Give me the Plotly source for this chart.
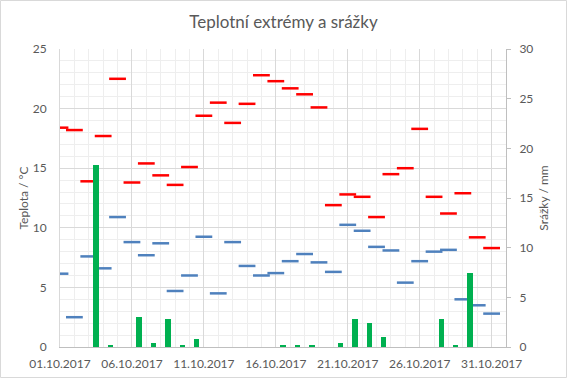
import plotly.graph_objects as go
import pandas as pd

dates = pd.date_range("2017-10-01", "2017-10-31", freq="D")

t_max = [18.4, 18.2, 13.9, 17.7, 22.5, 13.8, 15.4, 14.4, 13.6, 15.1,
         19.4, 20.5, 18.8, 20.4, 22.8, 22.3, 21.7, 21.2, 20.1, 11.9,
         12.8, 12.6, 10.9, 14.5, 15.0, 18.3, 12.6, 11.2, 12.9, 9.2, 8.3]

t_min = [6.15, 2.5, 7.6, 6.6, 10.9, 8.8, 7.7, 8.7, 4.7, 6.0,
         9.25, 4.5, 8.8, 6.8, 6.0, 6.2, 7.2, 7.8, 7.1, 6.3,
         10.25, 9.75, 8.4, 8.1, 5.4, 7.2, 8.0, 8.15, 4.0, 3.5, 2.8]

precip = [0, 0, 18.3, 0.2, 0, 3.0, 0.4, 2.8, 0.2, 0.8,
          0, 0, 0, 0, 0, 0.2, 0.2, 0.2, 0, 0.4,
          2.8, 2.4, 1.0, 0, 0, 0, 2.8, 0.2, 7.5, 0, 0]

title_text = "Teplotní extrémy a srážky"
y1_title = "Teplota / °C"
y2_title = "Srážky / mm"

FONT = "Lato"
GRAY = "#595959"
DAY_MS = 86400000

fig = go.Figure()

fig.add_trace(go.Bar(
    x=dates, y=precip, yaxis="y2",
    xperiod=DAY_MS, xperiodalignment="middle",
    width=0.38 * DAY_MS,
    marker=dict(color="#00B050", line=dict(width=0)),
    name="Srážky", hoverinfo="x+y",
))

fig.add_trace(go.Scatter(
    x=dates, y=t_max, mode="markers",
    marker=dict(symbol="line-ew", size=12, color="#FF0000",
                line=dict(color="#FF0000", width=2.5)),
    name="Max",
))

fig.add_trace(go.Scatter(
    x=dates, y=t_min, mode="markers",
    marker=dict(symbol="line-ew", size=12, color="#4F81BD",
                line=dict(color="#4F81BD", width=2.5)),
    name="Min",
))

ML, MR, MT, MB = 60, 61, 49, 31
W, H = 567, 378
pw, ph = W - ML - MR, H - MT - MB

fig.update_layout(
    width=W, height=H,
    margin=dict(l=ML, r=MR, t=MT, b=MB, pad=0, autoexpand=False),
    paper_bgcolor="white", plot_bgcolor="white",
    showlegend=False,
    font=dict(family=FONT, size=12, color=GRAY),
    title=dict(text=title_text, x=0.5, xanchor="center", y=1 - 22 / H,
               yanchor="middle", font=dict(family=FONT, size=17, color=GRAY)),
    bargap=0,
    xaxis=dict(
        type="date", automargin=False,
        range=["2017-10-01", "2017-11-01"],
        tick0="2017-10-01", dtick=5 * DAY_MS,
        tickformat="%d.%m.%Y",
        showgrid=True, gridcolor="#D9D9D9", gridwidth=1,
        minor=dict(dtick=DAY_MS, showgrid=True, gridcolor="#EEEEEE", gridwidth=1),
        showline=True, linecolor="#BFBFBF", linewidth=1,
        ticks="", zeroline=False, ticklabelstandoff=6,
        tickfont=dict(family=FONT, size=12, color=GRAY),
    ),
    yaxis=dict(
        range=[0, 25], dtick=5, automargin=False,
        showgrid=True, gridcolor="#D9D9D9", gridwidth=1,
        minor=dict(dtick=1, showgrid=True, gridcolor="#EEEEEE", gridwidth=1),
        showline=True, linecolor="#D9D9D9", linewidth=1,
        zeroline=False, ticks="", ticklabelstandoff=10,
        title=dict(text=y1_title, standoff=1, font=dict(family=FONT, size=12, color=GRAY)),
        tickfont=dict(family=FONT, size=12, color=GRAY),
    ),
    yaxis2=dict(
        range=[0, 30], dtick=5, overlaying="y", side="right", automargin=False,
        showgrid=False, zeroline=False,
        showline=True, linecolor="#BFBFBF", linewidth=1,
        ticks="outside", ticklen=4, tickcolor="#BFBFBF", ticklabelstandoff=6,
        title=dict(text=y2_title, standoff=7, font=dict(family=FONT, size=12, color=GRAY)),
        tickfont=dict(family=FONT, size=12, color=GRAY),
    ),
    shapes=[dict(
        type="rect", xref="paper", yref="paper",
        x0=(-ML + 0.5) / pw, x1=(W - ML - 0.5) / pw,
        y0=(-MB + 0.5) / ph, y1=(H - MB - 0.5) / ph,
        line=dict(color="#D9D9D9", width=1), fillcolor="rgba(0,0,0,0)",
        layer="below",
    )],
)

fig.write_html("out.html", config={"displayModeBar": False},
               post_script="document.body.style.margin='0';")
